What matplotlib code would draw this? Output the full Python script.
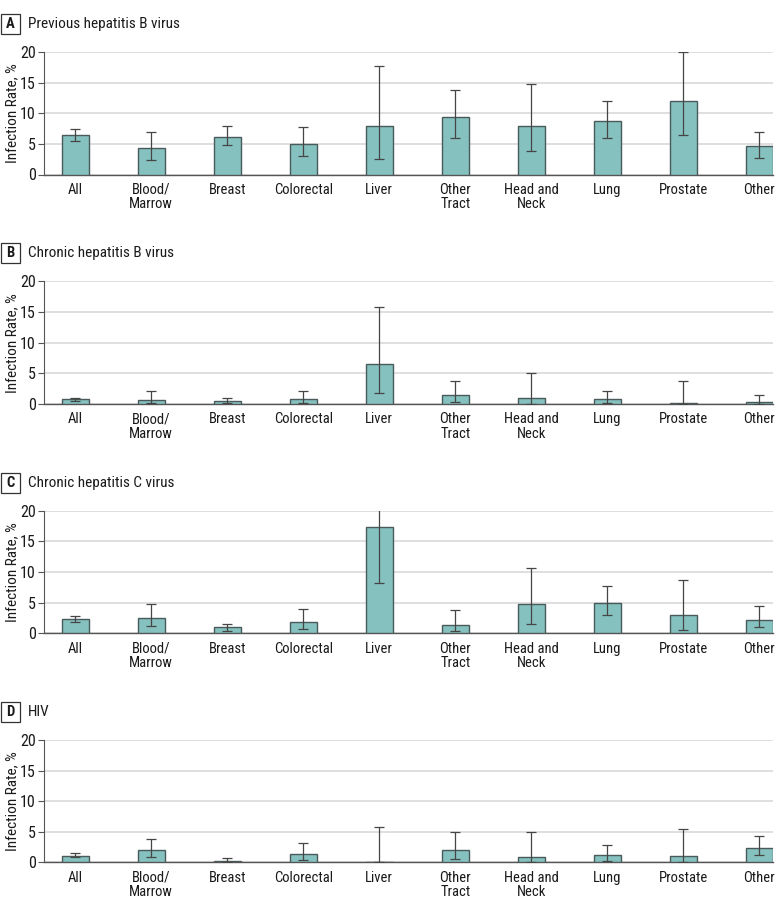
import numpy as np
import matplotlib
matplotlib.use("Agg")
import matplotlib.pyplot as plt
from matplotlib.patches import Rectangle

plt.rcParams['font.family'] = ['Roboto Condensed', 'DejaVu Sans']

# ============ Data ============
categories = ["All", "Blood/\nMarrow", "Breast", "Colorectal", "Liver",
              "Other\nTract", "Head and\nNeck", "Lung", "Prostate", "Other"]

panel_letters = ["A", "B", "C", "D"]
panel_titles = ["Previous hepatitis B virus", "Chronic hepatitis B virus",
                "Chronic hepatitis C virus", "HIV"]

prev_hbv = [6.5, 4.3, 6.1, 5.0, 8.0, 9.4, 8.0, 8.7, 12.0, 4.6]
prev_hbv_lo = [5.5, 2.4, 4.9, 2.95, 2.5, 5.9, 3.8, 5.9, 6.4, 2.7]
prev_hbv_hi = [7.4, 6.9, 7.9, 7.8, 17.8, 13.8, 14.8, 12.1, 20.0, 7.0]

chr_hbv = [0.8, 0.65, 0.5, 0.8, 6.6, 1.4, 1.0, 0.75, 0.1, 0.33]
chr_hbv_lo = [0.5, 0.1, 0.15, 0.15, 1.85, 0.3, 0.0, 0.15, 0.0, 0.0]
chr_hbv_hi = [1.0, 2.1, 1.0, 2.1, 15.8, 3.7, 5.0, 2.05, 3.7, 1.5]

chr_hcv = [2.35, 2.45, 1.0, 1.9, 17.3, 1.3, 4.7, 4.9, 3.05, 2.2]
chr_hcv_lo = [1.85, 1.15, 0.4, 0.75, 8.15, 0.33, 1.5, 2.95, 0.55, 1.0]
chr_hcv_hi = [2.9, 4.7, 1.5, 4.0, 27.0, 3.75, 10.65, 7.65, 8.65, 4.4]

hiv = [1.1, 2.0, 0.15, 1.35, 0.0, 2.0, 0.8, 1.15, 1.0, 2.3]
hiv_lo = [0.8, 0.8, 0.0, 0.35, 0.0, 0.6, 0.0, 0.15, 0.0, 1.15]
hiv_hi = [1.5, 3.8, 0.65, 3.1, 5.85, 4.9, 4.9, 2.8, 5.4, 4.3]

series = [(prev_hbv, prev_hbv_lo, prev_hbv_hi),
          (chr_hbv, chr_hbv_lo, chr_hbv_hi),
          (chr_hcv, chr_hcv_lo, chr_hcv_hi),
          (hiv, hiv_lo, hiv_hi)]

# ============ Layout (pixels) ============
W, H = 783, 911
ax_left, ax_right = 44, 773
# (axes top px, axes bottom px, title centre px)
panels_px = [(52.3, 174.5, 24), (281.3, 404.0, 253),
             (510.7, 633.3, 483), (740.0, 862.3, 712)]

BAR_COLOR = "#85c1bf"
EDGE_COLOR = "#4a5a5a"
ERR_COLOR = "#454545"
GRID_COLOR = "#d9d9d9"
TEXT_COLOR = "#1a1a1a"

fig = plt.figure(figsize=(W / 100, H / 100), dpi=100)

x = np.arange(len(categories))

for i, (vals, lo, hi) in enumerate(series):
    top, bot, ty = panels_px[i]
    ax = fig.add_axes([ax_left / W, 1 - bot / H,
                       (ax_right - ax_left) / W, (bot - top) / H])
    vals = np.array(vals)
    lo = np.array(lo)
    hi = np.array(hi)

    ax.bar(x, vals, width=0.355, color=BAR_COLOR, edgecolor=EDGE_COLOR,
           linewidth=1.0, zorder=3)
    ax.errorbar(x, vals, yerr=[vals - lo, hi - vals], fmt="none",
                ecolor=ERR_COLOR, elinewidth=0.9, capsize=3.6,
                capthick=0.9, zorder=4)

    ax.set_xlim(-0.41, 9.18)
    ax.set_ylim(0, 20)
    ax.set_yticks([0, 5, 10, 15, 20])
    ax.set_xticks(x)
    ax.set_xticklabels(categories, fontsize=10.5, color=TEXT_COLOR,
                       linespacing=1.05)
    ax.tick_params(axis="x", length=0, pad=6)
    ax.tick_params(axis="y", length=4, width=0.8, color="#555555",
                   labelsize=11.5, labelcolor=TEXT_COLOR, pad=2)
    ax.yaxis.grid(True, color=GRID_COLOR, linewidth=1.2, zorder=0)
    ax.set_axisbelow(True)
    for s in ["top", "right"]:
        ax.spines[s].set_visible(False)
    ax.spines["left"].set_color("#555555")
    ax.spines["bottom"].set_color("#555555")
    ax.spines["left"].set_linewidth(0.8)
    ax.spines["bottom"].set_linewidth(1.0)
    ax.set_ylabel("Infection Rate, %", fontsize=11, color=TEXT_COLOR)
    ax.yaxis.set_label_coords((19 - ax_left) / (ax_right - ax_left), 0.5)

    # panel letter box + title
    box_h = 20 / H
    box_w = 19 / W
    fig.patches.append(Rectangle((1 / W, 1 - (ty + 10) / H), box_w, box_h,
                                 transform=fig.transFigure, fill=False,
                                 edgecolor="#333333", linewidth=0.9))
    fig.text((1 + 9.5) / W, 1 - ty / H, panel_letters[i], fontsize=10.5,
             fontweight="bold", ha="center", va="center", color=TEXT_COLOR)
    fig.text(28 / W, 1 - ty / H, panel_titles[i], fontsize=11,
             ha="left", va="center", color=TEXT_COLOR)

fig.savefig("out.png", dpi=100)
